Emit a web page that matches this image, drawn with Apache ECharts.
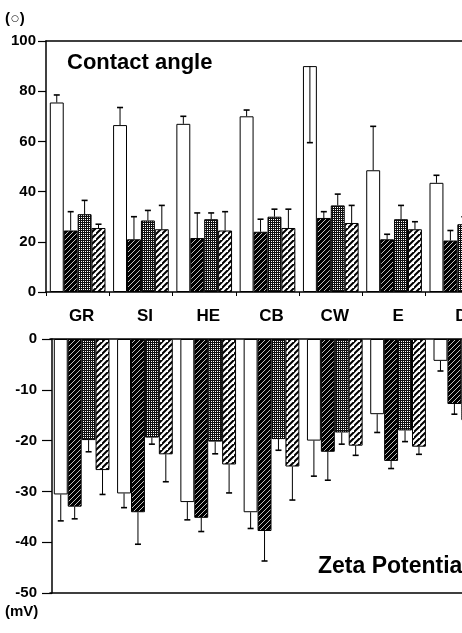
<!DOCTYPE html>
<html>
<head>
<meta charset="utf-8">
<script src="https://cdn.jsdelivr.net/npm/echarts@6/dist/echarts.min.js"></script>
<style>html,body{margin:0;padding:0;background:#fff;}#c{width:462px;height:633px;}</style>
</head>
<body>
<div id="c"></div>
<script>
const categories = ['GR', 'SI', 'HE', 'CB', 'CW', 'E', 'D'];
const yTicksTop = [0, 20, 40, 60, 80, 100];
const yTicksBottom = [-50, -40, -30, -20, -10, 0];

// Contact angle (degrees) and whisker end values
const caWhite      = [75.5, 66.5, 67.0, 70.0, 90.0, 48.5, 43.5];
const caWhiteEnd   = [78.5, 73.5, 70.0, 72.5, 59.5, 66.0, 46.5];
const caDark       = [24.5, 21.0, 21.5, 24.0, 29.5, 21.0, 20.5];
const caDarkEnd    = [32.0, 30.0, 31.5, 29.0, 32.0, 23.0, 24.5];
const caDotted     = [31.0, 28.5, 29.0, 30.0, 34.5, 29.0, 27.0];
const caDottedEnd  = [36.5, 32.5, 31.5, 33.0, 39.0, 34.5, 30.0];
const caHatched    = [25.5, 25.0, 24.5, 25.5, 27.5, 25.0, 24.0];
const caHatchedEnd = [27.0, 34.5, 32.0, 33.0, 34.5, 28.0, 27.0];

// Zeta potential (mV) and whisker end values
const zpWhite      = [-30.6, -30.4, -32.1, -34.1, -20.0, -14.8, -4.3];
const zpWhiteEnd   = [-35.8, -33.2, -35.6, -37.3, -27.0, -18.4, -6.3];
const zpDark       = [-33.0, -34.1, -35.2, -37.8, -22.2, -24.0, -12.8];
const zpDarkEnd    = [-35.4, -40.4, -37.9, -43.7, -27.8, -25.5, -14.8];
const zpDotted     = [-19.9, -19.4, -20.2, -19.7, -18.4, -18.0, -16.0];
const zpDottedEnd  = [-22.2, -20.7, -22.6, -21.9, -20.7, -20.2, -18.0];
const zpHatched    = [-25.8, -22.7, -24.7, -25.1, -21.0, -21.2, -15.0];
const zpHatchedEnd = [-30.6, -28.1, -30.3, -31.7, -22.9, -22.7, -17.0];

const GAP = 0.12;
const FONT = "'Liberation Sans', Arial, sans-serif";

function tile(size, draw) {
  const c = document.createElement('canvas');
  c.width = size; c.height = size;
  const g = c.getContext('2d');
  draw(g, size);
  return { image: c, repeat: 'repeat' };
}
function diag(g, s, color, w) {
  g.strokeStyle = color; g.lineWidth = w;
  g.beginPath();
  g.moveTo(-1, s + 1); g.lineTo(s + 1, -1);
  g.moveTo(-1 - s, s + 1); g.lineTo(1, -1);
  g.moveTo(s - 1, 2 * s + 1); g.lineTo(2 * s + 1, s - 1);
  g.stroke();
}
const patDark = tile(5, (g, s) => { g.fillStyle = '#000'; g.fillRect(0, 0, s, s); diag(g, s, 'rgba(255,255,255,0.85)', 0.9); });
const patHatch = tile(6, (g, s) => { g.fillStyle = '#fff'; g.fillRect(0, 0, s, s); diag(g, s, '#000', 2); });
const patDot = tile(4, (g, s) => {
  g.fillStyle = '#111'; g.fillRect(0, 0, s, s);
  g.fillStyle = '#fff';
  g.fillRect(1, 1, 1, 1); g.fillRect(3, 3, 1, 1); g.fillRect(1, 3, 1, 1); g.fillRect(3, 1, 1, 1);
});
const fills = ['#fff', patDark, patDot, patHatch];

function barSeries(values, k, xi, yi) {
  return {
    type: 'bar', xAxisIndex: xi, yAxisIndex: yi, data: values,
    barGap: '0%', barCategoryGap: (GAP * 100) + '%',
    itemStyle: { color: fills[k], borderColor: '#000', borderWidth: 1 },
    silent: true, z: 2
  };
}
function errSeries(values, ends, k, xi, yi) {
  return {
    type: 'custom', xAxisIndex: xi, yAxisIndex: yi, z: 5, silent: true,
    data: values.map((v, i) => [i, v, ends[i]]),
    encode: { x: 0, y: [1, 2] },
    renderItem: function (params, api) {
      const ci = api.value(0);
      const p0 = api.coord([ci, api.value(1)]);
      const p1 = api.coord([ci, api.value(2)]);
      const band = api.size([1, 0])[0];
      const gw = band * (1 - GAP);
      const bw = gw / 4;
      const x = p0[0] - gw / 2 + bw * (k + 0.5);
      return {
        type: 'group', children: [
          { type: 'line', shape: { x1: x, y1: p0[1], x2: x, y2: p1[1] }, style: { stroke: '#000', lineWidth: 1 } },
          { type: 'line', shape: { x1: x - 3, y1: p1[1], x2: x + 3, y2: p1[1] }, style: { stroke: '#000', lineWidth: 1.6 } }
        ]
      };
    }
  };
}

const axisLineStyle = { color: '#000', width: 1.5 };
const topSets = [[caWhite, caWhiteEnd], [caDark, caDarkEnd], [caDotted, caDottedEnd], [caHatched, caHatchedEnd]];
const botSets = [[zpWhite, zpWhiteEnd], [zpDark, zpDarkEnd], [zpDotted, zpDottedEnd], [zpHatched, zpHatchedEnd]];
const series = [];
topSets.forEach((s, k) => series.push(barSeries(s[0], k, 0, 0)));
botSets.forEach((s, k) => series.push(barSeries(s[0], k, 2, 1)));
topSets.forEach((s, k) => series.push(errSeries(s[0], s[1], k, 0, 0)));
botSets.forEach((s, k) => series.push(errSeries(s[0], s[1], k, 2, 1)));

const chart = echarts.init(document.getElementById('c'), null, { renderer: 'canvas' });
chart.setOption({
  animation: false,
  backgroundColor: '#fff',
  grid: [
    { left: 46, top: 41, width: 443, height: 251, outerBoundsMode: 'none', containLabel: false },
    { left: 50, top: 339, width: 443, height: 254, outerBoundsMode: 'none', containLabel: false }
  ],
  xAxis: [
    { type: 'category', gridIndex: 0, data: categories, position: 'bottom',
      axisLine: { onZero: false, lineStyle: axisLineStyle },
      axisTick: { show: true, length: 4, lineStyle: { color: '#000', width: 1 } },
      axisLabel: { show: false } },
    { type: 'category', gridIndex: 0, data: categories, position: 'top',
      axisLine: { onZero: false, lineStyle: axisLineStyle },
      axisTick: { show: false }, axisLabel: { show: false } },
    { type: 'category', gridIndex: 1, data: categories, position: 'top',
      axisLine: { onZero: false, lineStyle: axisLineStyle },
      axisTick: { show: false },
      axisLabel: { show: true, margin: 14, color: '#000', fontSize: 17, fontWeight: 'bold', fontFamily: FONT } },
    { type: 'category', gridIndex: 1, data: categories, position: 'bottom',
      axisLine: { onZero: false, lineStyle: axisLineStyle },
      axisTick: { show: false }, axisLabel: { show: false } }
  ],
  yAxis: [
    { type: 'value', gridIndex: 0, min: yTicksTop[0], max: yTicksTop[yTicksTop.length - 1], interval: 20,
      axisLine: { show: true, lineStyle: axisLineStyle },
      axisTick: { show: true, length: 8, lineStyle: { color: '#000', width: 1.2 } },
      splitLine: { show: false },
      axisLabel: { margin: 10, color: '#000', fontSize: 15, fontWeight: 'bold', fontFamily: FONT } },
    { type: 'value', gridIndex: 1, min: yTicksBottom[0], max: yTicksBottom[yTicksBottom.length - 1], interval: 10,
      offset: -2,
      axisLine: { show: true, lineStyle: axisLineStyle },
      axisTick: { show: true, length: 10, lineStyle: { color: '#000', width: 1.2 } },
      splitLine: { show: false },
      axisLabel: { margin: 15, color: '#000', fontSize: 15, fontWeight: 'bold', fontFamily: FONT } }
  ],
  graphic: [
    { type: 'text', x: 5, y: 19, style: {
      text: '{p|(}{c|\u25CB}{p|)}',
      rich: {
        p: { font: 'bold 15px ' + FONT, fill: '#000' },
        c: { font: '9px DejaVu Sans', fill: '#000', padding: [0, 1, 0, 1] }
      },
      fill: '#000', verticalAlign: 'middle' } },
    { type: 'text', x: 67, y: 63, style: { text: 'Contact angle', font: 'bold 22px ' + FONT, fill: '#000', verticalAlign: 'middle' } },
    { type: 'text', x: 318, y: 567, style: { text: 'Zeta Potential', font: 'bold 23px ' + FONT, fill: '#000', verticalAlign: 'middle' } },
    { type: 'text', x: 5, y: 612, style: { text: '(mV)', font: 'bold 15px ' + FONT, fill: '#000', verticalAlign: 'middle' } }
  ],
  series: series
});
</script>
</body>
</html>
